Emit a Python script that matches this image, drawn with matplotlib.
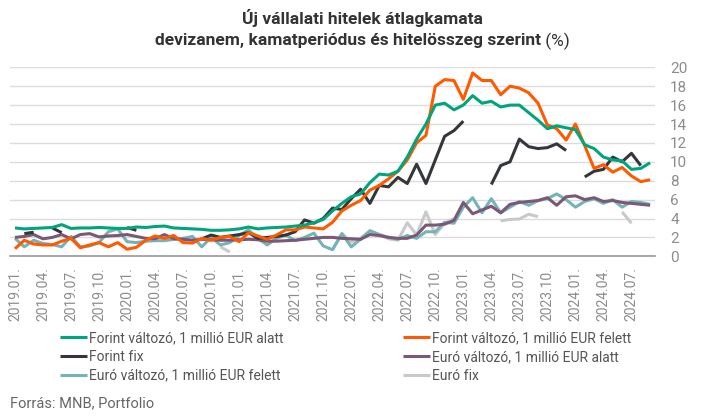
import numpy as np
import matplotlib
matplotlib.use("Agg")
import matplotlib.pyplot as plt

plt.rcParams['font.family'] = ['Roboto', 'DejaVu Sans']

N = None

# monthly data, 2019.01. - 2024.09.
months = [f"{y}.{m:02d}." for y in range(2019, 2025) for m in range(1, 13)][:69]
tick_labels = months[::3]

huf_var_small = [3.0, 2.9, 2.95, 3.0, 3.05, 3.35, 2.95, 3.0, 3.0, 3.05, 3.0, 2.95,
                 2.95, 3.1, 3.05, 3.15, 3.2, 3.0, 2.95, 2.9, 2.85, 2.75, 2.75, 2.8,
                 2.9, 3.1, 2.9, 3.0, 3.05, 3.1, 3.2, 3.3, 3.55, 3.9, 4.8, 5.6,
                 6.3, 6.6, 7.8, 8.7, 8.6, 9.0, 10.5, 12.4, 14.0, 16.0, 16.2, 15.5,
                 16.0, 17.0, 16.2, 16.4, 15.8, 16.0, 16.0, 15.2, 14.4, 13.5, 13.8, 13.6,
                 13.4, 11.8, 11.4, 10.5, 10.2, 10.1, 9.2, 9.3, 9.9]

huf_var_large = [0.8, 1.7, 1.3, 1.2, 1.2, 1.6, 1.9, 0.9, 1.2, 1.45, 1.0, 1.45,
                 0.75, 0.95, 1.7, 2.15, 1.9, 2.2, 1.45, 1.4, 1.9, 1.7, 2.0, 2.1,
                 1.55, 2.5, 2.15, 1.8, 2.25, 2.8, 2.8, 3.1, 3.0, 2.9, 3.6, 4.8,
                 5.4, 5.9, 7.0, 7.5, 8.2, 9.0, 10.2, 12.0, 12.8, 18.0, 18.7, 18.6,
                 16.6, 19.4, 18.6, 18.6, 17.1, 18.0, 17.8, 17.3, 16.2, 13.9, 13.5, 12.3,
                 14.0, 11.7, 9.3, 9.7, 8.9, 9.4, 8.5, 7.9, 8.1]

huf_fix = [N, 2.4, 2.55, N, 3.0, 2.5, N, N, N, N, N, N,
           3.05, 2.75, N, N, N, N, N, N, 1.85, 2.25, 2.0, 2.15,
           2.3, 2.5, 1.9, 2.0, 2.1, 2.25, 2.6, 3.85, 3.5, 4.0, 5.1, 4.95,
           6.1, 7.1, 5.6, 7.5, 7.35, 8.35, 7.7, 9.75, 7.7, 10.2, 12.7, 13.3,
           14.3, N, N, 7.6, 9.6, 10.0, 12.4, 11.6, 11.4, 11.5, 11.9, 11.2,
           N, 8.4, 9.0, 9.2, 10.5, 10.0, 10.9, 9.6, N]

eur_var_small = [2.0, 2.1, 2.3, 1.85, 2.0, 2.3, 1.85, 2.3, 2.4, 2.05, 2.15, 2.2,
                 2.3, 2.1, 1.9, 1.85, 2.3, 1.85, 1.8, 1.7, 1.8, 1.75, 1.7, 1.7,
                 1.75, 1.8, 1.75, 1.6, 1.6, 1.65, 1.7, 1.8, 1.9, 2.0, 2.0, 1.9,
                 1.85, 1.8, 2.3, 2.2, 2.0, 1.9, 1.9, 2.25, 3.3, 3.3, 3.4, 3.8,
                 5.7, 4.5, 4.9, 5.3, 4.6, 5.5, 5.7, 5.8, 5.9, 6.2, 5.4, 6.3,
                 6.4, 6.0, 6.2, 5.8, 5.9, 5.7, 5.6, 5.5, 5.4]

eur_var_large = [1.9, 1.0, 1.7, 1.35, 1.25, 1.0, 2.1, 1.0, 1.1, 1.45, 2.6, 2.9,
                 1.55, 1.45, 1.6, 1.65, 1.65, 1.8, 1.9, 2.1, 1.0, 2.0, 1.2, 1.45,
                 2.2, 2.8, 1.9, 1.2, 1.9, 2.25, 1.65, 2.0, 2.45, 1.1, 0.7, 2.4,
                 1.0, 1.8, 2.7, 2.3, 2.0, 1.8, 2.2, 1.9, 2.6, 2.6, 3.6, 3.5,
                 5.2, 6.2, 4.6, 6.1, 4.6, 5.2, 5.8, 5.4, 5.9, 6.1, 6.6, 6.0,
                 5.2, 5.8, 6.1, 5.6, 6.0, 5.2, 5.8, 5.7, 5.5]

eur_fix = [N] * 22 + [1.0, 0.45] + [N] * 10 + \
          [0.7, 2.4, 1.5, 1.9, 2.7, 2.3, 1.85, 1.7, 3.55, 2.25, 4.7, 2.3, 3.5, 4.0] + \
          [N] * 4 + [3.75, 3.9, 3.95, 4.45, 4.2] + [N] * 8 + [4.7, 3.5, N, N]

series = [
    ("Forint változó, 1 millió EUR alatt", huf_var_small, "#00a57c"),
    ("Forint fix", huf_fix, "#33363b"),
    ("Euró változó, 1 millió EUR felett", eur_var_large, "#74b4b6"),
    ("Forint változó, 1 millió EUR felett", huf_var_large, "#ff5a00"),
    ("Euró változó, 1 millió EUR alatt", eur_var_small, "#7b5877"),
    ("Euró fix", eur_fix, "#c9c9c9"),
]

W, H = 718, 417
fig = plt.figure(figsize=(W / 100, H / 100), dpi=100)
ax = fig.add_axes([10.3 / W, 1 - 256.3 / H, (654.8 - 10.3) / W, (256.3 - 67.3) / H])

x = np.arange(len(months))
# draw order: grey/teal below, forint lines on top
draw_order = [5, 2, 4, 1, 3, 0]
handles = {}
for k in draw_order:
    name, vals, col = series[k]
    y = np.array([np.nan if v is None else v for v in vals], dtype=float)
    ln, = ax.plot(x, y, color=col, lw=2.2, solid_capstyle='butt', label=name)
    handles[k] = ln

ax.set_xlim(-0.5, 68.5)
ax.set_ylim(0, 20)
ax.set_xticks(x[::3])
ax.set_xticklabels(tick_labels, rotation=90, fontsize=10, color="#8c8c8c")
ax.set_yticks(range(0, 21, 2))
ax.yaxis.tick_right()
ax.tick_params(axis='y', length=0, pad=11, labelsize=11, labelcolor="#8c8c8c")
ax.tick_params(axis='x', length=0, pad=8)
for s in ['top', 'left', 'right']:
    ax.spines[s].set_visible(False)
ax.spines['bottom'].set_color("#999999")
ax.spines['bottom'].set_linewidth(1.2)
ax.grid(axis='y', color="#dcdcdc", lw=1.0)
ax.set_axisbelow(True)

# legend, filled column-wise
fig.legend([handles[k] for k in range(6)], [series[k][0] for k in range(6)],
           ncol=2, loc='upper left', bbox_to_anchor=(60 / W, 1 - 331 / H),
           frameon=False, fontsize=10, labelcolor="#555555",
           handlelength=1.95, handletextpad=0.15, columnspacing=8.6,
           labelspacing=0.35, borderpad=0, borderaxespad=0)

fig.text(10 / W, 1 - 403 / H, "Forrás: MNB, Portfolio", fontsize=10.5,
         color="#666666", va='center', ha='left')

# title
cx = 362 / W
fig.text(cx, 1 - 18 / H, "Új vállalati hitelek átlagkamata", fontsize=12.5,
         fontweight='bold', color="#333333", ha='center', va='center')
t_bold = fig.text(0, 1 - 41 / H, "devizanem, kamatperiódus és hitelösszeg szerint",
                  fontsize=12.5, fontweight='bold', color="#333333", ha='left', va='center')
t_norm = fig.text(0, 1 - 41 / H, " (%)", fontsize=12.5, color="#333333",
                  ha='left', va='center')
r = fig.canvas.get_renderer()
wb = t_bold.get_window_extent(r).width
wn = t_norm.get_window_extent(r).width
x0 = cx * W - (wb + wn) / 2
t_bold.set_x(x0 / W)
t_norm.set_x((x0 + wb) / W)

fig.savefig("out.png", dpi=100)
